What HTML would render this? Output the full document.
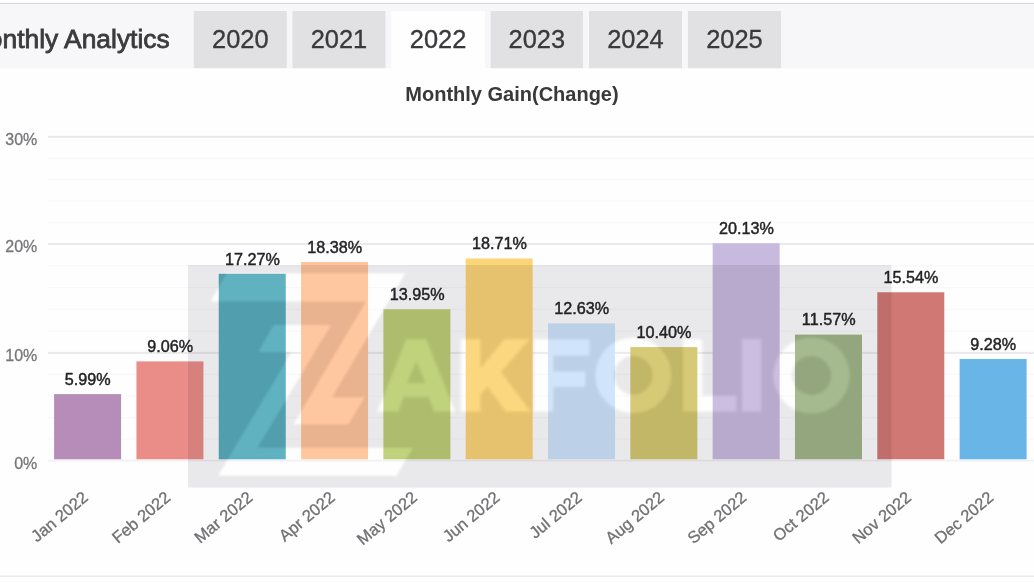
<!DOCTYPE html>
<html>
<head>
<meta charset="utf-8">
<title>Monthly Analytics</title>
<style>
html,body{margin:0;padding:0;background:#FEFEFE;}
#pg{position:absolute;left:0;top:0;width:1034px;height:582px;overflow:hidden;filter:blur(0.4px);}
body{width:1034px;height:582px;overflow:hidden;background:#FEFEFE;position:relative;
font-family:"Liberation Sans",sans-serif;}
svg{position:absolute;left:0;top:0;}
svg text{font-family:"Liberation Sans",sans-serif;}
</style>
</head>
<body>
<div id="pg">
<svg width="1034" height="582" viewBox="0 0 1034 582">
<rect x="0" y="2.8" width="1034" height="1.3" fill="#DAD9DD"/>
<rect x="0" y="4.0" width="1034" height="64.2" fill="#F7F6F9"/>
<rect x="193.8" y="11" width="93" height="57.2" fill="#E1E0E2"/>
<text x="240.3" y="48.0" text-anchor="middle" font-size="25.4" fill="#3A3A3D" stroke="#3A3A3D" stroke-width="0.35">2020</text>
<rect x="292.4" y="11" width="93" height="57.2" fill="#E1E0E2"/>
<text x="338.9" y="48.0" text-anchor="middle" font-size="25.4" fill="#3A3A3D" stroke="#3A3A3D" stroke-width="0.35">2021</text>
<rect x="391.2" y="11" width="93.8" height="57.2" fill="#FEFEFE"/>
<text x="438.1" y="48.0" text-anchor="middle" font-size="25.4" fill="#3A3A3D" stroke="#3A3A3D" stroke-width="0.35">2022</text>
<rect x="490.6" y="11" width="92.4" height="57.2" fill="#E1E0E2"/>
<text x="536.8" y="48.0" text-anchor="middle" font-size="25.4" fill="#3A3A3D" stroke="#3A3A3D" stroke-width="0.35">2023</text>
<rect x="589.0" y="11" width="93" height="57.2" fill="#E1E0E2"/>
<text x="635.5" y="48.0" text-anchor="middle" font-size="25.4" fill="#3A3A3D" stroke="#3A3A3D" stroke-width="0.35">2024</text>
<rect x="688.0" y="11" width="93" height="57.2" fill="#E1E0E2"/>
<text x="734.5" y="48.0" text-anchor="middle" font-size="25.4" fill="#3A3A3D" stroke="#3A3A3D" stroke-width="0.35">2025</text>
<text x="-34.2" y="48.0" font-size="26.4" fill="#3B3B3F" stroke="#3B3B3F" stroke-width="0.8">Monthly Analytics</text>
<rect x="0" y="575.6" width="1034" height="1.3" fill="#E9E8EB"/>
<rect x="48" y="459.70" width="986" height="1.8" fill="#F1F0F2"/>
<rect x="48" y="438.46" width="986" height="1.2" fill="#F8F7F9"/>
<rect x="48" y="416.92" width="986" height="1.2" fill="#F8F7F9"/>
<rect x="48" y="395.38" width="986" height="1.2" fill="#F8F7F9"/>
<rect x="48" y="373.84" width="986" height="1.2" fill="#F8F7F9"/>
<rect x="48" y="351.90" width="986" height="2.0" fill="#EBE9ED"/>
<rect x="48" y="330.52" width="986" height="1.2" fill="#F8F7F9"/>
<rect x="48" y="308.74" width="986" height="1.2" fill="#F8F7F9"/>
<rect x="48" y="286.96" width="986" height="1.2" fill="#F8F7F9"/>
<rect x="48" y="265.18" width="986" height="1.2" fill="#F8F7F9"/>
<rect x="48" y="243.00" width="986" height="2.0" fill="#EBE9ED"/>
<rect x="48" y="221.97" width="986" height="1.2" fill="#F8F7F9"/>
<rect x="48" y="200.54" width="986" height="1.2" fill="#F8F7F9"/>
<rect x="48" y="179.11" width="986" height="1.2" fill="#F8F7F9"/>
<rect x="48" y="157.68" width="986" height="1.2" fill="#F8F7F9"/>
<rect x="48" y="135.85" width="986" height="2.0" fill="#EBE9ED"/>
<text x="37.3" y="469.05" text-anchor="end" font-size="16" fill="#77777A" stroke="#77777A" stroke-width="0.3">0%</text>
<text x="37.3" y="361.35" text-anchor="end" font-size="16" fill="#77777A" stroke="#77777A" stroke-width="0.3">10%</text>
<text x="37.3" y="252.45" text-anchor="end" font-size="16" fill="#77777A" stroke="#77777A" stroke-width="0.3">20%</text>
<text x="37.3" y="145.30" text-anchor="end" font-size="16" fill="#77777A" stroke="#77777A" stroke-width="0.3">30%</text>
<rect x="54.10" y="394.12" width="67.0" height="65.18" fill="#B68CB8"/>
<text x="87.80" y="384.82" text-anchor="middle" font-size="16.2" fill="#242426" stroke="#242426" stroke-width="0.45">5.99%</text>
<text transform="translate(89.10,499.2) rotate(-40)" text-anchor="end" font-size="16.5" fill="#707073" stroke="#707073" stroke-width="0.3">Jan 2022</text>
<rect x="136.42" y="361.38" width="67.0" height="97.92" fill="#EA8D88"/>
<text x="170.12" y="352.08" text-anchor="middle" font-size="16.2" fill="#242426" stroke="#242426" stroke-width="0.45">9.06%</text>
<text transform="translate(171.42,499.2) rotate(-40)" text-anchor="end" font-size="16.5" fill="#707073" stroke="#707073" stroke-width="0.3">Feb 2022</text>
<rect x="218.74" y="273.82" width="67.0" height="185.48" fill="#57ADBC"/>
<text x="252.44" y="264.52" text-anchor="middle" font-size="16.2" fill="#242426" stroke="#242426" stroke-width="0.45">17.27%</text>
<text transform="translate(253.74,499.2) rotate(-40)" text-anchor="end" font-size="16.5" fill="#707073" stroke="#707073" stroke-width="0.3">Mar 2022</text>
<rect x="301.06" y="261.98" width="67.0" height="197.32" fill="#FFC49A"/>
<text x="334.76" y="252.68" text-anchor="middle" font-size="16.2" fill="#242426" stroke="#242426" stroke-width="0.45">18.38%</text>
<text transform="translate(336.06,499.2) rotate(-40)" text-anchor="end" font-size="16.5" fill="#707073" stroke="#707073" stroke-width="0.3">Apr 2022</text>
<rect x="383.38" y="309.22" width="67.0" height="150.08" fill="#BDCF75"/>
<text x="417.08" y="299.92" text-anchor="middle" font-size="16.2" fill="#242426" stroke="#242426" stroke-width="0.45">13.95%</text>
<text transform="translate(418.38,499.2) rotate(-40)" text-anchor="end" font-size="16.5" fill="#707073" stroke="#707073" stroke-width="0.3">May 2022</text>
<rect x="465.70" y="258.46" width="67.0" height="200.84" fill="#FBD577"/>
<text x="499.40" y="249.16" text-anchor="middle" font-size="16.2" fill="#242426" stroke="#242426" stroke-width="0.45">18.71%</text>
<text transform="translate(500.70,499.2) rotate(-40)" text-anchor="end" font-size="16.5" fill="#707073" stroke="#707073" stroke-width="0.3">Jun 2022</text>
<rect x="548.02" y="323.30" width="67.0" height="136.00" fill="#CDE4FB"/>
<text x="581.72" y="314.00" text-anchor="middle" font-size="16.2" fill="#242426" stroke="#242426" stroke-width="0.45">12.63%</text>
<text transform="translate(583.02,499.2) rotate(-40)" text-anchor="end" font-size="16.5" fill="#707073" stroke="#707073" stroke-width="0.3">Jul 2022</text>
<rect x="630.34" y="347.08" width="67.0" height="112.22" fill="#D4C76E"/>
<text x="664.04" y="337.78" text-anchor="middle" font-size="16.2" fill="#242426" stroke="#242426" stroke-width="0.45">10.40%</text>
<text transform="translate(665.34,499.2) rotate(-40)" text-anchor="end" font-size="16.5" fill="#707073" stroke="#707073" stroke-width="0.3">Aug 2022</text>
<rect x="712.66" y="243.31" width="67.0" height="215.99" fill="#C8BADE"/>
<text x="746.36" y="234.01" text-anchor="middle" font-size="16.2" fill="#242426" stroke="#242426" stroke-width="0.45">20.13%</text>
<text transform="translate(747.66,499.2) rotate(-40)" text-anchor="end" font-size="16.5" fill="#707073" stroke="#707073" stroke-width="0.3">Sep 2022</text>
<rect x="794.98" y="334.61" width="67.0" height="124.69" fill="#A0B687"/>
<text x="828.68" y="325.31" text-anchor="middle" font-size="16.2" fill="#242426" stroke="#242426" stroke-width="0.45">11.57%</text>
<text transform="translate(829.98,499.2) rotate(-40)" text-anchor="end" font-size="16.5" fill="#707073" stroke="#707073" stroke-width="0.3">Oct 2022</text>
<rect x="877.30" y="292.27" width="67.0" height="167.03" fill="#D07873"/>
<text x="911.00" y="282.97" text-anchor="middle" font-size="16.2" fill="#242426" stroke="#242426" stroke-width="0.45">15.54%</text>
<text transform="translate(912.30,499.2) rotate(-40)" text-anchor="end" font-size="16.5" fill="#707073" stroke="#707073" stroke-width="0.3">Nov 2022</text>
<rect x="959.62" y="359.03" width="67.0" height="100.27" fill="#69B5E7"/>
<text x="993.32" y="349.73" text-anchor="middle" font-size="16.2" fill="#242426" stroke="#242426" stroke-width="0.45">9.28%</text>
<text transform="translate(994.62,499.2) rotate(-40)" text-anchor="end" font-size="16.5" fill="#707073" stroke="#707073" stroke-width="0.3">Dec 2022</text>
<text x="512.0" y="100.6" text-anchor="middle" font-size="20.0" font-weight="bold" fill="#39393C">Monthly Gain(Change)</text>
<defs>
<filter id="soft" x="-5%" y="-5%" width="110%" height="110%"><feGaussianBlur stdDeviation="0.9"/></filter>
<filter id="soft2" x="-5%" y="-10%" width="110%" height="120%"><feGaussianBlur stdDeviation="1.6"/></filter>
<mask id="wm" maskUnits="userSpaceOnUse" x="0" y="0" width="1034" height="582">
<rect x="0" y="0" width="1034" height="582" fill="#fff"/>
<g fill="#000" filter="url(#soft)"><polygon points="226.6,273.2 405.3,273.2 332,397.2 364.5,397.2 348.5,424.3 293.6,424.3 366,301.5 210.6,301.5"/><polygon points="273.4,324.9 330.9,324.9 257.4,447.7 412.8,447.7 396.8,475.7 218,475.7 291.5,351.9 258.5,351.9"/></g>
<g fill="#000" stroke="#000" filter="url(#soft2)"><path fill-rule="evenodd" d="M378,411.2 L406.5,339.6 L426,339.6 L454.5,411.2 L434.5,411.2 L428.8,396.6 L403.7,396.6 L398,411.2 Z M416.3,360.6 L426.0,383.3 L406.6,383.3 Z"/><path d="M461.2,339.6 L480,339.6 L480,369.5 L504.5,339.6 L528.5,339.6 L500.5,372 L530,411.2 L506,411.2 L487.5,386 L480,394.5 L480,411.2 L461.2,411.2 Z"/><path d="M534.2,339.6 L589,339.6 L589,355 L553,355 L553,372 L585,372 L585,386.5 L553,386.5 L553,411.2 L534.2,411.2 Z"/><ellipse cx="633.3" cy="375.3" rx="28.6" ry="28.6" fill="none" stroke-width="18.6"/><path d="M683.4,339.6 L701.8,339.6 L701.8,396 L736.2,396 L736.2,411.2 L683.4,411.2 Z"/><rect x="742.3" y="339.6" width="18.6" height="71.60"/><ellipse cx="811.5" cy="375.5" rx="28.8" ry="28.8" fill="none" stroke-width="18.6"/></g>
</mask>
</defs>
<rect x="188" y="265" width="703.5" height="222.5" fill="rgba(22,16,38,0.092)" mask="url(#wm)"/>
<g fill="#fff" stroke="#fff" stroke-opacity="0" opacity="0.06" filter="url(#soft)"><polygon points="226.6,273.2 405.3,273.2 332,397.2 364.5,397.2 348.5,424.3 293.6,424.3 366,301.5 210.6,301.5"/><polygon points="273.4,324.9 330.9,324.9 257.4,447.7 412.8,447.7 396.8,475.7 218,475.7 291.5,351.9 258.5,351.9"/><path fill-rule="evenodd" d="M378,411.2 L406.5,339.6 L426,339.6 L454.5,411.2 L434.5,411.2 L428.8,396.6 L403.7,396.6 L398,411.2 Z M416.3,360.6 L426.0,383.3 L406.6,383.3 Z"/><path d="M461.2,339.6 L480,339.6 L480,369.5 L504.5,339.6 L528.5,339.6 L500.5,372 L530,411.2 L506,411.2 L487.5,386 L480,394.5 L480,411.2 L461.2,411.2 Z"/><path d="M534.2,339.6 L589,339.6 L589,355 L553,355 L553,372 L585,372 L585,386.5 L553,386.5 L553,411.2 L534.2,411.2 Z"/><ellipse cx="633.3" cy="375.3" rx="28.6" ry="28.6" fill="none" stroke-opacity="1" stroke-width="18.6"/><path d="M683.4,339.6 L701.8,339.6 L701.8,396 L736.2,396 L736.2,411.2 L683.4,411.2 Z"/><rect x="742.3" y="339.6" width="18.6" height="71.60"/><ellipse cx="811.5" cy="375.5" rx="28.8" ry="28.8" fill="none" stroke-opacity="1" stroke-width="18.6"/></g>
</svg>
</div>
</body>
</html>
